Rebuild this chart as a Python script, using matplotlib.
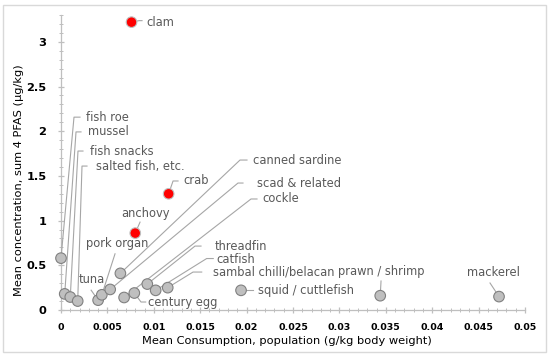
import matplotlib
matplotlib.use("Agg")
import matplotlib.pyplot as plt
import matplotlib.transforms as mtransforms
from matplotlib.lines import Line2D
from matplotlib.patches import Rectangle
from matplotlib.ticker import MultipleLocator, FuncFormatter

# ---------------- data ----------------
foods = ["clam", "crab", "anchovy", "fish roe", "mussel", "fish snacks",
         "salted fish, etc.", "tuna", "pork organ", "scad & related",
         "canned sardine", "cockle", "century egg", "threadfin", "catfish",
         "sambal chilli/belacan", "squid / cuttlefish", "prawn / shrimp",
         "mackerel"]
consumption = [0.0076, 0.0116, 0.0080, 0.0000, 0.0004, 0.0010, 0.0018,
               0.0040, 0.0044, 0.0053, 0.0064, 0.0068, 0.0079, 0.0093,
               0.0102, 0.0115, 0.0194, 0.0344, 0.0472]
concentration = [3.22, 1.30, 0.86, 0.58, 0.18, 0.145, 0.10, 0.11, 0.17,
                 0.23, 0.41, 0.14, 0.19, 0.29, 0.22, 0.25, 0.22, 0.16, 0.15]
highlighted = ["clam", "crab", "anchovy"]

x_ticks = [0, 0.005, 0.01, 0.015, 0.02, 0.025, 0.03, 0.035, 0.04, 0.045, 0.05]
y_ticks = [0, 0.5, 1, 1.5, 2, 2.5, 3]
x_label = "Mean Consumption, population (g/kg body weight)"
y_label = "Mean concentration, sum 4 PFAS (\u00b5g/kg)"

# ---------------- label layout (pixel offsets from the point, y up) ----------------
# name: (text_dx, text_dy, corner_dx, corner_dy, stub_end_dx or None)
label_layout = {
    "clam": (14.5, 0, 7.5, 1.5, 10.5),
    "crab": (14.4, 13.3, 4.4, 12.8, 9.4),
    "anchovy": (-14.2, 20, 4.8, 11, None),
    "fish roe": (25, 141, 13, 141, 19),
    "mussel": (23.3, 162, 11.3, 162, 16.3),
    "fish snacks": (19.7, 146, 7.7, 146, 12.7),
    "salted fish, etc.": (18.3, 135, 4.3, 135, 9.3),
    "tuna": (-19.1, 21, -7, 10, None),
    "pork organ": (-15.8, 51, 13.2, 41, None),
    "scad & related": (146.8, 106.4, 127.8, 106.4, 132.8),
    "canned sardine": (132.6, 113.3, 119.6, 113.3, 126.6),
    "cockle": (137.9, 98.5, 126.9, 98.5, 132.9),
    "century egg": (13.7, -9, 6.7, -9, 11.4),
    "threadfin": (67.7, 37.5, 47.7, 38, 53.7),
    "catfish": (61, 31.3, 51, 31.8, 57.6),
    "sambal chilli/belacan": (45.6, 15.3, 25.3, 15.6, 34),
    "squid / cuttlefish": (17, 0, 5, 0, 12),
    "prawn / shrimp": (-42.2, 24, 0.8, 14.7, None),
    "mackerel": (-32, 23.6, -9, 13.6, None),
}

W, H, DPI = 550, 357, 100
fig = plt.figure(figsize=(W / DPI, H / DPI), dpi=DPI)
ax = fig.add_axes([61 / W, 1 - 310 / H, (525 - 61) / W, (310 - 15) / H])

# chart border
fig.patches.append(Rectangle((3 / W, 5 / H), 543 / W, 347 / H, transform=fig.transFigure,
                             fill=False, edgecolor="#d9d9d9", linewidth=1.0))

ax.set_xlim(0, 0.05)
ax.set_ylim(0, 3.3)

face = ["#ff0000" if f in highlighted else "#bfbfbf" for f in foods]
edge = ["#bfbfbf" if f in highlighted else "#808080" for f in foods]
ax.scatter(consumption, concentration, s=58, c=face, edgecolors=edge,
           linewidths=0.8, zorder=5, clip_on=False)

lead_color = "#a6a6a6"
text_color = "#595959"
for name, xv, yv in zip(foods, consumption, concentration):
    tdx, tdy, cdx, cdy, sdx = label_layout[name]
    trans = mtransforms.IdentityTransform() + mtransforms.ScaledTranslation(xv, yv, ax.transData)
    xs = [0, cdx]
    ys = [0, cdy]
    if sdx is not None:
        xs.append(sdx)
        ys.append(cdy)
    ax.add_line(Line2D(xs, ys, transform=trans, color=lead_color, lw=0.8,
                       zorder=3, clip_on=False))
    ax.text(tdx, tdy, name, transform=trans, ha="left", va="center",
            fontsize=8.3, color=text_color, zorder=6, clip_on=False)

# axes styling
for s in ["top", "right"]:
    ax.spines[s].set_visible(False)
for s in ["left", "bottom"]:
    ax.spines[s].set_color("#bfbfbf")
    ax.spines[s].set_linewidth(0.9)

ax.set_xticks(x_ticks)
ax.set_yticks(y_ticks)
ax.xaxis.set_minor_locator(MultipleLocator(0.001))
ax.yaxis.set_minor_locator(MultipleLocator(0.1))
fmt = FuncFormatter(lambda v, p: "%g" % round(v, 6))
ax.xaxis.set_major_formatter(fmt)
ax.yaxis.set_major_formatter(fmt)
ax.tick_params(which="major", direction="inout", length=5, width=0.9, color="#bfbfbf")
ax.tick_params(which="minor", direction="inout", length=2.5, width=0.7, color="#bfbfbf")
ax.tick_params(axis="y", which="major", pad=8.0)
ax.tick_params(axis="x", which="major", pad=7.0)
for lab in ax.get_xticklabels():
    lab.set_fontweight("bold")
    lab.set_fontsize(6.8)
for lab in ax.get_yticklabels():
    lab.set_fontweight("bold")
    lab.set_fontsize(8.2)

ax.set_xlabel(x_label, fontsize=8.2)
ax.set_ylabel(y_label, fontsize=8.2)
ax.xaxis.set_label_coords((287 - 61) / 464, (310 - 341) / 295)
ax.xaxis.label.set_va("center")
ax.yaxis.set_label_coords((19 - 61) / 464, (310 - 180) / 295)
ax.yaxis.label.set_va("center")

fig.savefig("out.png", dpi=DPI)
